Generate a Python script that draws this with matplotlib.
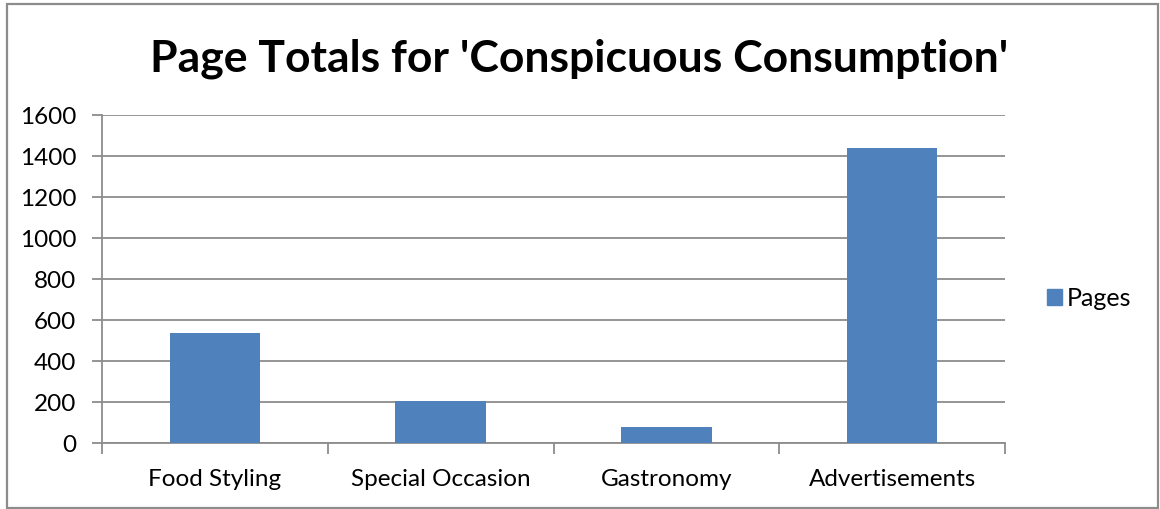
import matplotlib
matplotlib.use("Agg")
import matplotlib.pyplot as plt
from matplotlib.patches import Rectangle

categories = ["Food Styling", "Special Occasion", "Gastronomy", "Advertisements"]
pages = [537, 206, 77, 1441]
y_ticks = [0, 200, 400, 600, 800, 1000, 1200, 1400, 1600]
series_name = "Pages"
title = "Page Totals for 'Conspicuous Consumption'"

W, H = 1160, 510
plt.rcParams["font.family"] = ["Lato", "DejaVu Sans"]

fig = plt.figure(figsize=(W / 100, H / 100), dpi=100)
fig.patch.set_facecolor("white")

grid_c = "#8c8c8c"
bar_c = "#4f81bd"
label_size = 17.5

ax = fig.add_axes([102 / W, 1 - 444 / H, (1005 - 102) / W, (444 - 116) / H])
x = list(range(len(categories)))
ax.bar(x, pages, width=0.4, color=bar_c, zorder=3)

ax.set_xlim(-0.5, len(categories) - 0.5)
ax.set_ylim(y_ticks[0], y_ticks[-1])
ax.set_yticks(y_ticks)
ax.set_yticklabels([str(v) for v in y_ticks])
ax.yaxis.grid(True, color=grid_c, linewidth=1.3, zorder=0)
ax.set_axisbelow(True)

# category labels at bar centres, tick marks at category boundaries
ax.set_xticks(x)
ax.set_xticklabels(categories)
ax.set_xticks([i - 0.5 for i in range(len(categories) + 1)], minor=True)
ax.tick_params(axis="x", which="major", length=0, pad=18, labelsize=label_size, colors="black")
ax.tick_params(axis="x", which="minor", length=8, width=1.3, color=grid_c, direction="out")
ax.tick_params(axis="y", length=7, width=1.3, color=grid_c, direction="out", pad=11.5,
               labelsize=label_size, labelcolor="black")

for side in ("top", "right"):
    ax.spines[side].set_visible(False)
for side in ("left", "bottom"):
    ax.spines[side].set_color(grid_c)
    ax.spines[side].set_linewidth(1.3)

# legend
handle = Rectangle((0, 0), 1, 1, color=bar_c)
leg = fig.legend([handle], [series_name], loc="center left",
                 bbox_to_anchor=(1047 / W, 1 - 299 / H), frameon=False,
                 fontsize=18, handlelength=0.6, handleheight=0.6,
                 handletextpad=0.18, borderaxespad=0, borderpad=0)

fig.text(579 / W, 1 - 72 / H, title, ha="center", va="baseline",
         fontsize=32, fontweight="bold", color="black")

# outer chart border
fig.patches.append(Rectangle((7 / W, 1 - 509 / H), (1158 - 7) / W, (509 - 5) / H,
                             transform=fig.transFigure, fill=False,
                             edgecolor=grid_c, linewidth=1.6))

fig.savefig("out.png", dpi=100, facecolor="white")
